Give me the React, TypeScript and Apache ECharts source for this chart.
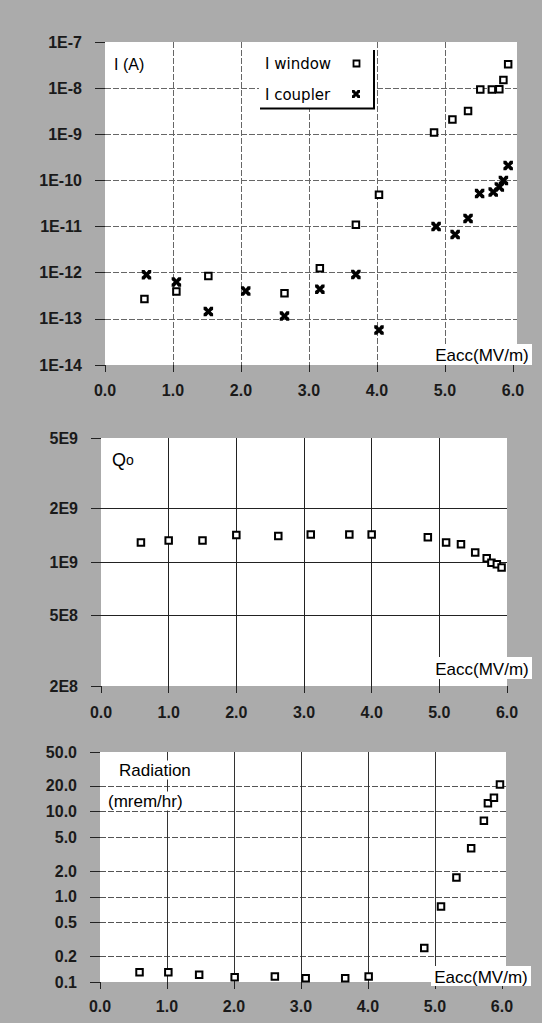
import React, { useEffect, useRef } from "react";
import * as echarts from "echarts";

// ---- tick values ----
const xTicks = [0, 1, 2, 3, 4, 5, 6];
const currentTicks = [1e-14, 1e-13, 1e-12, 1e-11, 1e-10, 1e-9, 1e-8, 1e-7];
const q0Ticks = [2e8, 5e8, 1e9, 2e9, 5e9];
const radTicks = [0.1, 0.2, 0.5, 1, 2, 5, 10, 20, 50];

// ---- panel 1: currents ----
const eaccWindow = [0.58, 1.05, 1.52, 2.64, 3.16, 3.69, 4.03, 4.84, 5.11, 5.34, 5.52, 5.69, 5.8, 5.86, 5.93];
const iWindow = [2.7e-13, 3.9e-13, 8.5e-13, 3.6e-13, 1.25e-12, 1.1e-11, 4.9e-11, 1.1e-9, 2.1e-9, 3.2e-9, 9.3e-9, 9.3e-9, 9.5e-9, 1.5e-8, 3.3e-8];
const eaccCoupler = [0.61, 1.05, 1.52, 2.07, 2.64, 3.16, 3.69, 4.03, 4.87, 5.15, 5.34, 5.51, 5.71, 5.8, 5.86, 5.93];
const iCoupler = [9e-13, 6.3e-13, 1.44e-13, 4e-13, 1.15e-13, 4.4e-13, 9.2e-13, 5.7e-14, 1e-11, 6.7e-12, 1.5e-11, 5.2e-11, 5.6e-11, 7.2e-11, 1e-10, 2.1e-10];

// ---- panel 2: Q0 ----
const eaccQ = [0.59, 1.0, 1.5, 2.0, 2.62, 3.1, 3.67, 4.0, 4.83, 5.1, 5.32, 5.53, 5.7, 5.77, 5.85, 5.92];
const q0 = [1.29e9, 1.32e9, 1.32e9, 1.42e9, 1.4e9, 1.43e9, 1.43e9, 1.43e9, 1.38e9, 1.29e9, 1.26e9, 1.13e9, 1.05e9, 0.99e9, 0.97e9, 0.93e9];

// ---- panel 3: radiation ----
const eaccRad = [0.59, 1.02, 1.48, 2.01, 2.61, 3.07, 3.66, 4.01, 4.84, 5.09, 5.32, 5.54, 5.73, 5.79, 5.88, 5.97];
const radiation = [0.13, 0.13, 0.122, 0.114, 0.116, 0.111, 0.111, 0.116, 0.25, 0.77, 1.68, 3.7, 7.8, 12.5, 14.5, 20.8];

const zip = (xs: number[], ys: number[]) => xs.map((x, i) => [x, ys[i]]);

const crossPath =
  "path://M0,0L3,0L5,2.5L7,0L10,0L10,3L7.5,5L10,7L10,10L7,10L5,7.5L3,10L0,10L0,7L2.5,5L0,3Z";

export default function App() {
  const ref = useRef<HTMLDivElement>(null);
  useEffect(() => {
    const chart = echarts.init(ref.current!, null, { renderer: "svg" });
    const labelFont = {
      fontFamily: "Liberation Sans",
      fontWeight: "bold" as const,
      fontSize: 16,
      color: "#1a1a1a",
    };
    const sq = {
      type: "scatter",
      symbol: "rect",
      symbolSize: 6.5,
      clip: false,
      itemStyle: { color: "#fff", borderColor: "#000", borderWidth: 2, opacity: 1 },
    };
    const xAxis = (gi: number, max: number, margin: number, split: any) => ({
      type: "value",
      gridIndex: gi,
      min: 0,
      max,
      axisLine: { show: false },
      axisTick: { show: true, customValues: xTicks, length: 7, lineStyle: { color: "#222" } },
      axisLabel: { customValues: xTicks, formatter: (v: number) => v.toFixed(1), margin, ...labelFont },
      splitLine: { show: true, showMinLine: false, showMaxLine: false, lineStyle: split },
    });
    const yAxis = (gi: number, min: number, max: number, ticks: number[], fmt: (v: number) => string, split: any) => ({
      type: "log",
      logBase: 10,
      gridIndex: gi,
      min,
      max,
      axisLine: { show: false },
      axisTick: { show: true, customValues: ticks, length: 10, lineStyle: { color: "#222" } },
      axisLabel: { customValues: ticks, formatter: fmt, margin: 23, ...labelFont },
      splitLine: { show: true, showMinLine: false, showMaxLine: false, lineStyle: split },
    });
    const sciFmt = (v: number) => {
      const e = Math.floor(Math.log10(v) + 1e-9);
      const m = Math.round(v / Math.pow(10, e));
      return `${m}E${e}`;
    };
    const txt = (x: number, y: number, text: string, size: number, extra: any = {}) => ({
      type: "text",
      x,
      y,
      z: 100,
      style: {
        text,
        fontFamily: "Liberation Sans",
        fontSize: size,
        fill: "#000",
        verticalAlign: "middle",
        align: "left",
        ...extra,
      },
    });
    const eaccBox = (x: number, y: number, h: number) => [
      { type: "rect", z: 99, shape: { x, y, width: 100, height: h }, style: { fill: "#fff" } },
      txt(x + 50, y + h / 2 + 1, "Eacc(MV/m)", 17, { align: "center" }),
    ];

    chart.setOption({
      animation: false,
      backgroundColor: "#ababab",
      grid: [
        { left: 105, top: 42, width: 412, height: 323, show: true, backgroundColor: "#fff", borderWidth: 0 },
        { left: 101, top: 438, width: 406, height: 248, show: true, backgroundColor: "#fff", borderWidth: 0 },
        { left: 100, top: 752, width: 406, height: 230, show: true, backgroundColor: "#fff", borderWidth: 0 },
      ],
      xAxis: [
        xAxis(0, 6.06, 17, { color: "#666", width: 1, type: [6, 2] }),
        xAxis(1, 6.0, 18, { color: "#222", width: 1 }),
        xAxis(2, 6.06, 16, { color: "#333", width: 1 }),
      ],
      yAxis: [
        yAxis(0, 1e-14, 1e-7, currentTicks, (v: number) => "1E" + Math.round(Math.log10(v)), {
          color: "#666",
          width: 1,
          type: [6, 2],
        }),
        yAxis(1, 2e8, 5e9, q0Ticks, sciFmt, { color: "#222", width: 1 }),
        yAxis(2, 0.1, 50, radTicks, (v: number) => v.toFixed(1), { color: "#555", width: 1, type: [6, 2] }),
      ],
      series: [
        { ...sq, name: "I window", xAxisIndex: 0, yAxisIndex: 0, data: zip(eaccWindow, iWindow) },
        {
          type: "scatter",
          name: "I coupler",
          xAxisIndex: 0,
          yAxisIndex: 0,
          symbol: crossPath,
          symbolSize: 9.5,
          clip: false,
          itemStyle: { color: "#000", opacity: 1 },
          data: zip(eaccCoupler, iCoupler),
        },
        { ...sq, name: "Q0", xAxisIndex: 1, yAxisIndex: 1, data: zip(eaccQ, q0) },
        { ...sq, name: "Radiation", xAxisIndex: 2, yAxisIndex: 2, data: zip(eaccRad, radiation) },
      ],
      graphic: [
        // legend box with shadow
        { type: "rect", z: 99, shape: { x: 259, y: 42, width: 114, height: 66 }, style: { fill: "#fff" } },
        { type: "line", z: 100, shape: { x1: 374, y1: 50, x2: 374, y2: 109 }, style: { stroke: "#000", lineWidth: 2 } },
        { type: "line", z: 100, shape: { x1: 260, y1: 108.5, x2: 375, y2: 108.5 }, style: { stroke: "#000", lineWidth: 2 } },
        txt(265, 64, "I window", 15, { fontFamily: "DejaVu Sans" }),
        txt(265, 95, "I coupler", 15, { fontFamily: "DejaVu Sans" }),
        {
          type: "rect",
          z: 100,
          shape: { x: 353.5, y: 60.5, width: 6, height: 6 },
          style: { fill: "#fff", stroke: "#000", lineWidth: 1.8 },
        },
        {
          type: "polygon",
          z: 100,
          shape: {
            points: [
              [0, 0], [3, 0], [5, 2.5], [7, 0], [10, 0], [10, 3], [7.5, 5], [10, 7], [10, 10], [7, 10],
              [5, 7.5], [3, 10], [0, 10], [0, 7], [2.5, 5], [0, 3],
            ].map(([a, b]) => [352 + a * 0.8, 90 + b * 0.8]),
          },
          style: { fill: "#000" },
        },
        txt(114, 64, "I (A)", 16),
        ...eaccBox(432, 344, 21),
        ...eaccBox(432, 657, 22),
        ...eaccBox(431, 966, 20),
        {
          type: "text",
          x: 112,
          y: 460,
          z: 100,
          style: {
            text: "{a|Q}{b|o}",
            verticalAlign: "middle",
            rich: {
              a: { fontFamily: "Liberation Sans", fontSize: 18, fill: "#000", color: "#000" },
              b: { fontFamily: "Liberation Sans", fontSize: 14, fill: "#000", color: "#000" },
            },
          },
        },
        txt(117, 770, "Radiation", 17, { backgroundColor: "#fff", padding: [1, 2] }),
        txt(106, 801, "(mrem/hr)", 17, { backgroundColor: "#fff", padding: [1, 2] }),
      ],
    });
    return () => chart.dispose();
  }, []);
  return <div ref={ref} style={{ position: "absolute", left: 0, top: 0, width: 542, height: 1023 }} />;
}
